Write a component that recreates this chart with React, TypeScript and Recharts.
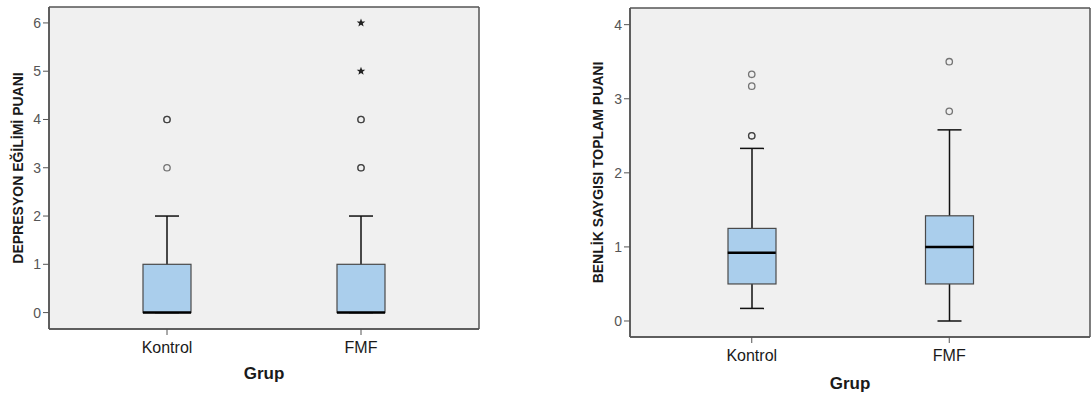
import {
  Bar,
  CartesianGrid,
  ComposedChart,
  Scatter,
  XAxis,
  YAxis,
} from "recharts";

// groups on the x axis
const groups = ["Kontrol", "FMF"];

// DEPRESYON EĞİLİMİ PUANI
const depMin = [0, 0];
const depQ1 = [0, 0];
const depMedian = [0, 0];
const depQ3 = [1, 1];
const depMax = [2, 2];
const depTicks = [0, 1, 2, 3, 4, 5, 6];
// repeated entries are overlapping cases (they print darker)
const depOutliers = [
  { grup: "Kontrol", value: 4 },
  { grup: "Kontrol", value: 4 },
  { grup: "Kontrol", value: 3 },
  { grup: "FMF", value: 4 },
  { grup: "FMF", value: 4 },
  { grup: "FMF", value: 3 },
  { grup: "FMF", value: 3 },
];
const depExtremes = [
  { grup: "FMF", value: 5 },
  { grup: "FMF", value: 6 },
];

// BENLİK SAYGISI TOPLAM PUANI
const benMin = [0.17, 0];
const benQ1 = [0.5, 0.5];
const benMedian = [0.92, 1.0];
const benQ3 = [1.25, 1.42];
const benMax = [2.33, 2.58];
const benTicks = [0, 1, 2, 3, 4];
const benOutliers = [
  { grup: "Kontrol", value: 2.5 },
  { grup: "Kontrol", value: 2.5 },
  { grup: "Kontrol", value: 3.17 },
  { grup: "Kontrol", value: 3.33 },
  { grup: "FMF", value: 2.83 },
  { grup: "FMF", value: 3.5 },
];
const benExtremes: { grup: string; value: number }[] = [];

const FONT = "'Liberation Sans', Arial, sans-serif";
const BOX_SIZE = 48;
const CAP_SIZE = 24;
const FRAME = "#555555";

type Point = { grup: string; value: number };

type PanelProps = {
  title: string;
  min: number[];
  q1: number[];
  median: number[];
  q3: number[];
  max: number[];
  outliers: Point[];
  extremes: Point[];
  yDomain: [number, number];
  yTicks: number[];
  width: number;
  margin: { top: number; right: number; left: number; bottom: number };
  yAxisWidth: number;
  xAxisHeight: number;
  padding: { left: number; right: number };
  titleX: number;
  grupOffset: number;
  grupDx: number;
};

const WhiskerShape = (p: any) => {
  const cx = p.x + p.width / 2;
  const top = Math.min(p.y, p.y + p.height);
  const bottom = Math.max(p.y, p.y + p.height);
  return (
    <g stroke="#111" strokeWidth={1.5}>
      <line x1={cx} x2={cx} y1={top} y2={bottom} />
      <line x1={p.x} x2={p.x + p.width} y1={top} y2={top} />
      <line x1={p.x} x2={p.x + p.width} y1={bottom} y2={bottom} />
    </g>
  );
};

const BoxShape = (p: any) => (
  <rect
    x={p.x}
    y={Math.min(p.y, p.y + p.height)}
    width={p.width}
    height={Math.abs(p.height)}
    fill="#AACEEC"
    stroke="#4a4a4a"
    strokeWidth={1.2}
  />
);

const MedianShape = (p: any) => (
  <line
    x1={p.cx - BOX_SIZE / 2}
    x2={p.cx + BOX_SIZE / 2}
    y1={p.cy}
    y2={p.cy}
    stroke="#000"
    strokeWidth={2.5}
  />
);

const OutlierShape = (p: any) => (
  <circle
    cx={p.cx}
    cy={p.cy}
    r={3.2}
    fill="none"
    stroke="#222"
    strokeOpacity={0.6}
    strokeWidth={1.3}
  />
);

const StarShape = (p: any) => {
  const pts: string[] = [];
  for (let i = 0; i < 10; i++) {
    const r = i % 2 === 0 ? 4.5 : 1.9;
    const a = -Math.PI / 2 + (i * Math.PI) / 5;
    pts.push(`${p.cx + r * Math.cos(a)},${p.cy + r * Math.sin(a)}`);
  }
  return <polygon points={pts.join(" ")} fill="#222" />;
};

function BoxPanel(props: PanelProps) {
  const rows = groups.map((g, i) => ({
    grup: g,
    whisker: [props.min[i], props.max[i]],
    box: [props.q1[i], props.q3[i]],
  }));
  const medians = groups.map((g, i) => ({ grup: g, value: props.median[i] }));

  return (
    <ComposedChart
      width={props.width}
      height={396}
      data={rows}
      margin={props.margin}
      barGap={0}
    >
      {/* plot background plus the frame on the plot edges */}
      <CartesianGrid
        fill="#F0F0F0"
        stroke={FRAME}
        strokeWidth={1.5}
        horizontalCoordinatesGenerator={({ offset }: any) => [
          offset.top,
          offset.top + offset.height,
        ]}
        verticalCoordinatesGenerator={({ offset }: any) => [
          offset.left,
          offset.left + offset.width,
        ]}
      />
      <XAxis
        dataKey="grup"
        type="category"
        allowDuplicatedCategory={false}
        padding={props.padding}
        height={props.xAxisHeight}
        axisLine={{ stroke: FRAME, strokeWidth: 1.5 }}
        tickLine={{ stroke: FRAME }}
        tickSize={6}
        tickMargin={7}
        tick={{ fill: "#1a1a1a", fontSize: 16, fontFamily: FONT }}
        label={(lp: any) => {
          const vb = lp.viewBox;
          return (
            <text
              x={vb.x + vb.width / 2 + props.grupDx}
              y={vb.y + vb.height - props.grupOffset}
              textAnchor="middle"
              fontFamily={FONT}
              fontWeight="bold"
              fontSize={17}
              fill="#1a1a1a"
            >
              Grup
            </text>
          );
        }}
      />
      <XAxis
        xAxisId="whisker"
        dataKey="grup"
        type="category"
        allowDuplicatedCategory={false}
        padding={props.padding}
        hide
      />
      <YAxis
        dataKey="value"
        type="number"
        domain={props.yDomain}
        ticks={props.yTicks}
        width={props.yAxisWidth}
        axisLine={{ stroke: FRAME, strokeWidth: 1.5 }}
        tickLine={{ stroke: FRAME }}
        tickSize={6}
        tickMargin={2}
        tick={{ fill: "#555", fontSize: 14, fontFamily: FONT }}
        label={(lp: any) => {
          const vb = lp.viewBox;
          const x = vb.x + props.titleX;
          const y = vb.y + vb.height / 2;
          return (
            <text
              x={x}
              y={y}
              transform={`rotate(-90, ${x}, ${y})`}
              textAnchor="middle"
              fontFamily={FONT}
              fontWeight="bold"
              fontSize={14}
              fill="#1a1a1a"
            >
              {props.title}
            </text>
          );
        }}
      />
      <Bar
        xAxisId="whisker"
        dataKey="whisker"
        barSize={CAP_SIZE}
        shape={WhiskerShape}
        isAnimationActive={false}
      />
      <Bar
        dataKey="box"
        barSize={BOX_SIZE}
        shape={BoxShape}
        isAnimationActive={false}
      />
      <Scatter data={medians} shape={MedianShape} isAnimationActive={false} />
      <Scatter
        data={props.outliers}
        shape={OutlierShape}
        isAnimationActive={false}
      />
      {props.extremes.length > 0 && (
        <Scatter
          data={props.extremes}
          shape={StarShape}
          isAnimationActive={false}
        />
      )}
    </ComposedChart>
  );
}

export default function App() {
  return (
    <div
      style={{
        position: "absolute",
        left: 0,
        top: 0,
        width: 1091,
        height: 396,
        overflow: "hidden",
        background: "#fff",
      }}
    >
      <div style={{ position: "absolute", left: 0, top: 0 }}>
        <BoxPanel
          title="DEPRESYON EĞİLİMİ PUANI"
          min={depMin}
          q1={depQ1}
          median={depMedian}
          q3={depQ3}
          max={depMax}
          outliers={depOutliers}
          extremes={depExtremes}
          yDomain={[-0.34, 6.33]}
          yTicks={depTicks}
          width={545}
          margin={{ top: 7, right: 66, left: 0, bottom: 0 }}
          yAxisWidth={49}
          xAxisHeight={67}
          padding={{ left: 21, right: 21 }}
          titleX={23}
          grupOffset={17}
          grupDx={0}
        />
      </div>
      <div style={{ position: "absolute", left: 546, top: 0 }}>
        <BoxPanel
          title="BENLİK SAYGISI TOPLAM PUANI"
          min={benMin}
          q1={benQ1}
          median={benMedian}
          q3={benQ3}
          max={benMax}
          outliers={benOutliers}
          extremes={benExtremes}
          yDomain={[-0.216, 4.225]}
          yTicks={benTicks}
          width={546}
          margin={{ top: 8, right: 2, left: 0, bottom: 0 }}
          yAxisWidth={84}
          xAxisHeight={59}
          padding={{ left: 23, right: 42 }}
          titleX={57}
          grupOffset={7}
          grupDx={-10}
        />
      </div>
    </div>
  );
}
